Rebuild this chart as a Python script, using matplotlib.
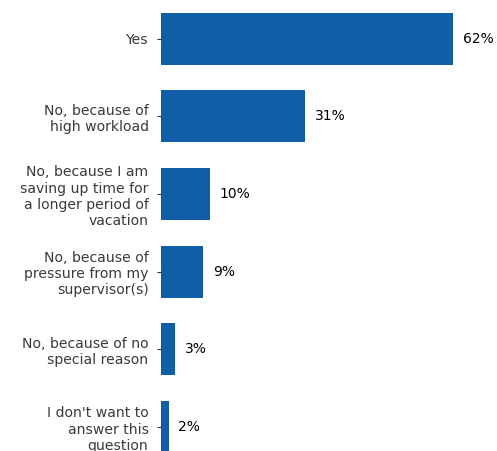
import matplotlib
matplotlib.use("Agg")
import matplotlib.pyplot as plt

categories = [
    "Yes",
    "No, because of\nhigh workload",
    "No, because I am\nsaving up time for\na longer period of\nvacation",
    "No, because of\npressure from my\nsupervisor(s)",
    "No, because of no\nspecial reason",
    "I don't want to\nanswer this\nquestion",
]
values = [62, 30.6, 10.4, 9, 3, 1.6]
labels = ["62%", "31%", "10%", "9%", "3%", "2%"]

fig = plt.figure(figsize=(4.97, 4.51), dpi=100)
ax = fig.add_axes([161 / 497, 0, (480 - 161) / 497, 1])
ypos = list(range(len(categories)))
ax.barh(ypos, values, height=0.67, color="#115EA8")
ax.set_ylim(5.31, -0.5)
ax.set_xlim(0, 319 / 4.71)
ax.set_yticks(ypos)
ax.set_yticklabels(categories, fontsize=10.1, color="#3a3a3a")
ax.tick_params(axis="y", length=3, width=0.8, color="#333333", pad=6)
ax.set_xticks([])
for s in ax.spines.values():
    s.set_visible(False)
for y, v, t in zip(ypos, values, labels):
    ax.text(v + 2.1, y, t, va="center", ha="left", fontsize=10, color="black")
fig.savefig("out.png", dpi=100)
